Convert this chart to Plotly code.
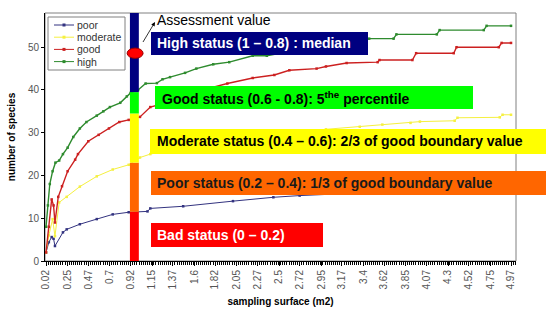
import plotly.graph_objects as go

# ---------------- data ----------------
x_tick_labels = ["0.02", "0.25", "0.47", "0.7", "0.92", "1.15", "1.37", "1.6", "1.82",
                 "2.05", "2.27", "2.5", "2.72", "2.95", "3.17", "3.4", "3.62", "3.85",
                 "4.07", "4.3", "4.52", "4.75", "4.97"]

high_x = [0.02, 0.04, 0.06, 0.09, 0.12, 0.16, 0.20, 0.25, 0.31, 0.38, 0.45, 0.56, 0.63, 0.70,
          0.81, 0.88, 0.92, 1.00, 1.08, 1.20, 1.26, 1.34, 1.50, 1.62, 1.80, 1.97, 2.22, 2.37,
          2.60, 2.85, 3.10, 3.40, 3.46, 3.72, 3.75, 4.18, 4.21, 4.68, 4.71, 4.97]
high_y = [8, 13, 18, 21, 23, 23.5, 25, 26.5, 29, 31, 32.5, 34, 35, 36,
          37, 38.5, 39.3, 40, 41.5, 41.6, 42.5, 43, 44, 45, 46, 46.5, 48, 48,
          49, 50, 51, 51.5, 52, 52, 53, 53, 54, 54, 55, 55]

good_x = [0.02, 0.05, 0.08, 0.10, 0.115, 0.15, 0.19, 0.25, 0.33, 0.36, 0.47, 0.58, 0.69, 0.80,
          0.90, 1.02, 1.13, 1.30, 1.60, 1.95, 2.22, 2.45, 2.61, 2.90, 3.00, 3.22, 3.55, 3.57,
          3.92, 3.96, 4.36, 4.39, 4.84, 4.87, 4.97]
good_y = [2, 8, 14.4, 13, 9, 15, 17.5, 21, 23.7, 25, 28, 29.5, 31, 32.5,
          33, 33.7, 36, 37, 39.5, 41.5, 42.8, 43.5, 44.6, 45, 45.5, 46.3, 46.5, 47,
          47, 48.6, 48.6, 50, 50, 51, 51]

moderate_x = [0.02, 0.05, 0.09, 0.115, 0.16, 0.24, 0.38, 0.56, 0.73, 0.90, 1.02, 1.13, 1.50,
              2.00, 2.50, 3.00, 3.36, 3.60, 3.90, 4.00, 4.37, 4.40, 4.85, 4.88, 4.97]
moderate_y = [2, 6, 9.8, 5.8, 13.7, 15, 17.4, 19.8, 21.4, 22.5, 24.2, 25, 26.8,
              28.5, 29.8, 30.8, 31.4, 31.9, 32.3, 32.6, 32.8, 33.5, 33.6, 34.2, 34.2]

poor_x = [0.02, 0.05, 0.08, 0.10, 0.115, 0.20, 0.24, 0.38, 0.56, 0.73, 0.90, 1.10, 1.13,
          1.48, 2.01, 2.44, 2.72, 3.26, 3.60, 4.00, 4.50, 4.97]
poor_y = [2, 4.4, 5.6, 5.2, 3.5, 6.7, 7.4, 8.6, 9.8, 10.9, 11.4, 11.6, 12.3,
          12.8, 14, 14.9, 15.3, 15.8, 16.2, 16.6, 17, 17.3]

series_names = ["poor", "moderate", "good", "high"]
series_colors = ["#333380", "#F5F040", "#CC2020", "#2E8B2E"]

status_bounds = [0, 11.5, 23, 34.5, 39.5, 58]
status_colors = ["#FF0000", "#FF6600", "#FFFF00", "#00FF00", "#000080"]
bar_x = [0.913, 1.008]
assessment_x = 0.968
assessment_value = 48.6

status_labels = [
    "High status (1 \u2013 0.8) : median",
    "Good status (0.6 - 0.8): 5<sup>the</sup> percentile",
    "Moderate status (0.4 \u2013 0.6): 2/3 of good boundary value",
    "Poor status (0.2 \u2013 0.4): 1/3 of good boundary value",
    "Bad status (0 \u2013 0.2)",
]

# ---------------- figure ----------------
W, H = 560, 331
L, R, T, B = 45, 516, 13, 261
FONT = "Arial, Liberation Sans, sans-serif"


def px(xp):
    return (xp - L) / (R - L)


def py(yp):
    return (B - yp) / (B - T)


fig = go.Figure()
series_data = [(poor_x, poor_y, 1.0), (moderate_x, moderate_y, 1.0),
               (good_x, good_y, 1.4), (high_x, high_y, 1.4)]
for name, col, (xs, ys, w) in zip(series_names, series_colors, series_data):
    fig.add_trace(go.Scatter(x=xs, y=ys, name=name, mode="lines+markers", showlegend=False,
                             line=dict(color=col, width=w),
                             marker=dict(color=col, size=2.5, symbol="square")))

shapes = []
annotations = []
# frame
shapes.append(dict(type="rect", xref="paper", yref="paper", x0=0, x1=1, y0=0, y1=1,
                   line=dict(color="#808080", width=1), layer="below"))

# legend (compact, drawn as in the reference)
shapes.append(dict(type="rect", xref="paper", yref="paper", x0=px(48), x1=px(125),
                   y0=py(70), y1=py(17), fillcolor="white",
                   line=dict(color="#808080", width=1), layer="above"))
for i, (name, col) in enumerate(zip(series_names, series_colors)):
    yy = 25 + i * 12.2
    shapes.append(dict(type="line", xref="paper", yref="paper", x0=px(54), x1=px(74),
                       y0=py(yy), y1=py(yy), line=dict(color=col, width=1), layer="above"))
    shapes.append(dict(type="rect", xref="paper", yref="paper", x0=px(62.5), x1=px(65.5),
                       y0=py(yy + 1.5), y1=py(yy - 1.5), fillcolor=col,
                       line=dict(width=0), layer="above"))
    annotations.append(dict(xref="paper", yref="paper", x=px(75), y=py(yy), xanchor="left",
                            yanchor="middle", showarrow=False, text=name,
                            font=dict(family=FONT, size=10.5, color="#333333")))

# status bar
for i, col in enumerate(status_colors):
    shapes.append(dict(type="rect", xref="x", yref="y", x0=bar_x[0], x1=bar_x[1],
                       y0=status_bounds[i], y1=status_bounds[i + 1],
                       fillcolor=col, line=dict(width=0), layer="above"))
# assessment ellipse
shapes.append(dict(type="circle", xref="x", yref="y",
                   x0=assessment_x - 0.085, x1=assessment_x + 0.085,
                   y0=assessment_value - 1.2, y1=assessment_value + 1.2,
                   fillcolor="#FF0000", line=dict(color="#990000", width=1), layer="above"))

boxes = [  # (x0, y0, x1, y1, fill, text colour, text x)
    (151, 32, 368, 55, "#000080", "white", 157),
    (155, 86, 473, 109, "#00FF00", "black", 162),
    (150, 129, 546, 154, "#FFFF00", "black", 157),
    (151, 171, 546, 195, "#FF6600", "#1a1a1a", 157),
    (151, 223, 323, 247, "#FF0000", "white", 157),
]
for (x0, y0, x1, y1, fill, tc, tx), label in zip(boxes, status_labels):
    shapes.append(dict(type="rect", xref="paper", yref="paper", x0=px(x0), x1=px(x1),
                       y0=py(y1), y1=py(y0), fillcolor=fill, line=dict(width=0), layer="above"))
    annotations.append(dict(xref="paper", yref="paper", x=px(tx - 2), y=py((y0 + y1) / 2),
                            xanchor="left", yanchor="middle", showarrow=False,
                            text="<b>" + label + "</b>",
                            font=dict(family=FONT, size=14, color=tc)))

annotations.append(dict(xref="paper", yref="paper", x=px(155), y=py(22), text=" ",
                        showarrow=True, ax=-15, ay=25, arrowhead=2, arrowsize=1,
                        arrowwidth=0.8, arrowcolor="black"))
annotations.append(dict(xref="paper", yref="paper", x=px(155), y=py(20), xanchor="left",
                        yanchor="middle", showarrow=False, text="Assessment value",
                        font=dict(family=FONT, size=14, color="black")))

fig.update_layout(
    width=W, height=H,
    margin=dict(l=L, r=W - R, t=T, b=H - B),
    paper_bgcolor="white", plot_bgcolor="white",
    font=dict(family=FONT, color="#555555", size=10),
    shapes=shapes, annotations=annotations,
    showlegend=False,
    xaxis=dict(range=[0.009, 5.023], tickmode="array",
               tickvals=[float(v) for v in x_tick_labels], ticktext=x_tick_labels,
               tickangle=-90, ticks="outside", ticklen=4, tickcolor="black",
               showline=True, linecolor="black", linewidth=1, showgrid=False, zeroline=False,
               minor=dict(ticks="outside", tick0=0.02, dtick=0.0225, ticklen=3, tickcolor="black"),
               title=dict(text="<b>sampling surface (m2)</b>", standoff=9,
                          font=dict(size=10, color="black"))),
    yaxis=dict(range=[0, 58], tickmode="array", tickvals=[0, 10, 20, 30, 40, 50],
               ticks="outside", ticklen=3, tickcolor="black",
               showline=True, linecolor="black", linewidth=1, showgrid=False, zeroline=False,
               title=dict(text="<b>number of species</b>", standoff=10,
                          font=dict(size=10, color="black"))),
)

fig.write_html("out.html")
